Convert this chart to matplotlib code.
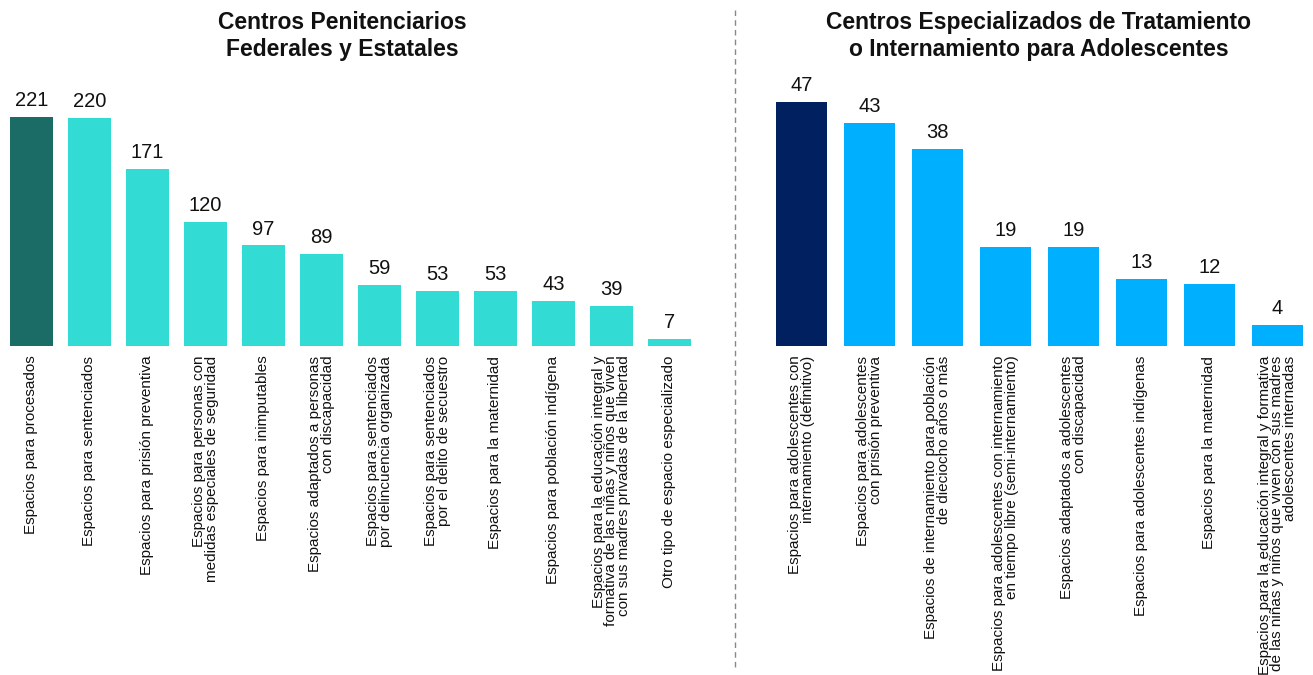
import numpy as np
import matplotlib
matplotlib.use('Agg')
import matplotlib.pyplot as plt
from matplotlib.lines import Line2D

plt.rcParams['font.family'] = ['Liberation Sans', 'DejaVu Sans']

# ---------------------------------------------------------------
# Data
titulo_izq = 'Centros Penitenciarios\nFederales y Estatales'
cat_izq = ['Espacios para procesados',
           'Espacios para sentenciados',
           'Espacios para prisión preventiva',
           'Espacios para personas con\nmedidas especiales de seguridad',
           'Espacios para inimputables',
           'Espacios adaptados a personas\ncon discapacidad',
           'Espacios para sentenciados\npor delincuencia organizada',
           'Espacios para sentenciados\npor el delito de secuestro',
           'Espacios para la maternidad',
           'Espacios para población indígena',
           'Espacios para la educación integral y\nformativa de las niñas y niños que viven\ncon sus madres privadas de la libertad',
           'Otro tipo de espacio especializado']
val_izq = [221, 220, 171, 120, 97, 89, 59, 53, 53, 43, 39, 7]

titulo_der = 'Centros Especializados de Tratamiento\no Internamiento para Adolescentes'
cat_der = ['Espacios para adolescentes con\ninternamiento (definitivo)',
           'Espacios para adolescentes\ncon prisión preventiva',
           'Espacios de internamiento para población\nde dieciocho años o más',
           'Espacios para adolescentes con internamiento\nen tiempo libre (semi-internamiento)',
           'Espacios adaptados a adolescentes\ncon discapacidad',
           'Espacios para adolescentes indígenas',
           'Espacios para la maternidad',
           'Espacios para la educación integral y formativa\nde las niñas y niños que viven con sus madres\nadolescentes internadas']
val_der = [47, 43, 38, 19, 19, 13, 12, 4]

W, H = 1313, 675
fig = plt.figure(figsize=(W / 100, H / 100), dpi=100)


def panel(left_px, width_px, top_px, cats, vals, c_main, c_rest, title, title_x):
    base_px = 346
    ax = fig.add_axes([left_px / W, (H - base_px) / H, width_px / W, (base_px - top_px) / H])
    x = np.arange(len(vals))
    colors = [c_main] + [c_rest] * (len(vals) - 1)
    ax.bar(x, vals, width=0.74, color=colors)
    ax.set_xlim(-0.5, len(vals) - 0.5)
    ax.set_ylim(0, max(vals))
    for xi, v in zip(x, vals):
        ax.annotate(str(v), (xi, v), xytext=(0, 5), textcoords='offset points',
                    ha='center', va='bottom', fontsize=14.5, color='#111111',
                    annotation_clip=False)
    ax.set_xticks(x)
    ax.set_xticklabels(cats, rotation=90, ha='center', va='top', fontsize=11,
                       multialignment='right', linespacing=0.82, color='#111111')
    ax.tick_params(axis='x', length=0, pad=7)
    ax.set_yticks([])
    for s in ax.spines.values():
        s.set_visible(False)
    fig.text(title_x / W, 1 - 11 / H, title, ha='center', va='top',
             fontsize=16.5, fontweight='bold', linespacing=1.2, color='#111111')
    return ax


panel(2.5, 696, 117, cat_izq, val_izq, '#1b6b67', '#33dbd5', titulo_izq, 342)
panel(767.5, 544, 102, cat_der, val_der, '#00205f', '#00b0ff', titulo_der, 1039)

# dashed separator
fig.add_artist(Line2D([735 / W, 735 / W], [1 - 10 / H, 1 - 670 / H],
                      transform=fig.transFigure, color='#888888',
                      linestyle=(0, (4, 3)), linewidth=1))

fig.savefig('out.png', dpi=100)
